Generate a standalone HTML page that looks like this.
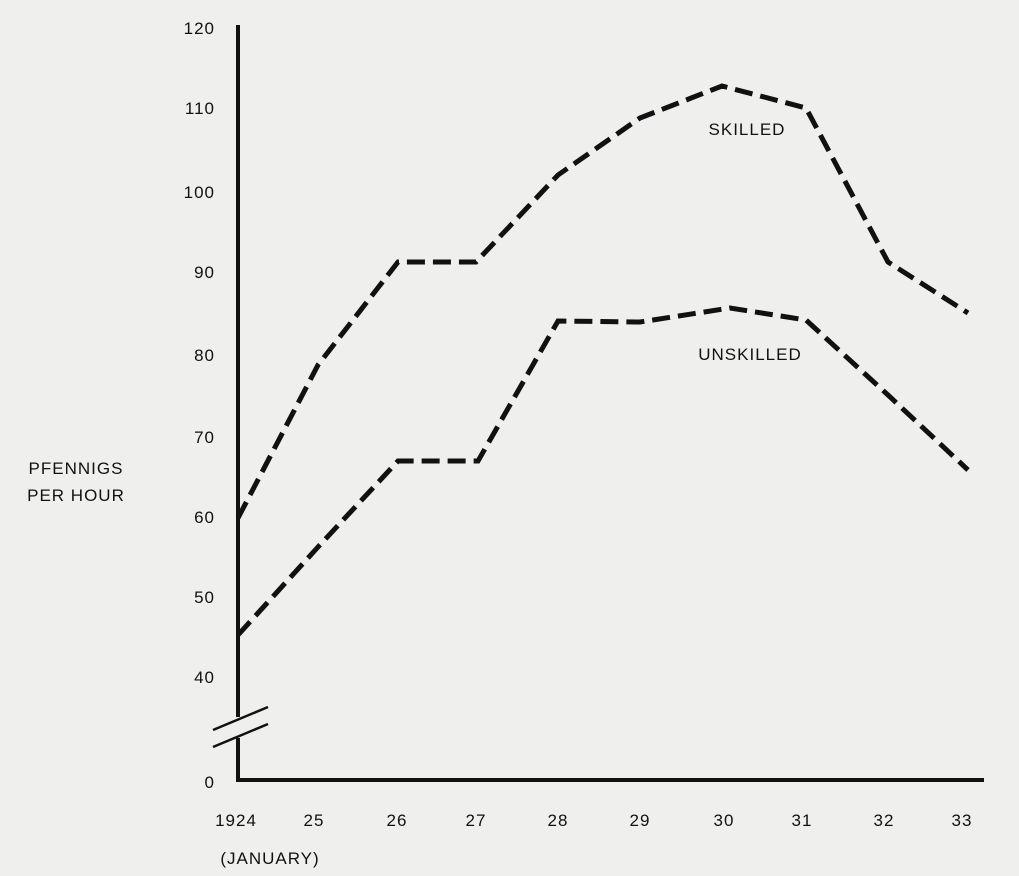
<!DOCTYPE html>
<html><head><meta charset="utf-8"><style>
html,body{margin:0;padding:0;background:#efefed;}
svg{display:block;}
text{font-family:"Liberation Sans",Arial,sans-serif;fill:#111;font-size:17px;letter-spacing:1px;}
</style></head><body>
<svg width="1019" height="876" viewBox="0 0 1019 876">
<rect width="1019" height="876" fill="#efefed"/>
<g stroke="#111" stroke-width="4" fill="none">
<line x1="238" y1="25" x2="238" y2="717"/>
<line x1="238" y1="738" x2="238" y2="782"/>
<line x1="236" y1="780" x2="984" y2="780"/>
</g>
<g stroke="#111" stroke-width="2.5">
<line x1="213" y1="730" x2="268" y2="707"/>
<line x1="213" y1="747" x2="268" y2="724"/>
</g>
<g stroke="#111" stroke-width="5" fill="none" stroke-dasharray="18,8">
<polyline points="238,518 318,365 398,262 476,262 558,175 640,118 722,86 806,108 888,262 968,313"/>
<polyline points="238,635 318,547 398,461 478,461 558,321 640,322 730,308 806,320 888,395 968,470"/>
</g>
<g text-anchor="end">
<text x="215" y="34">120</text>
<text x="215" y="114">110</text>
<text x="215" y="198">100</text>
<text x="215" y="278">90</text>
<text x="215" y="361">80</text>
<text x="215" y="443">70</text>
<text x="215" y="523">60</text>
<text x="215" y="603">50</text>
<text x="215" y="683">40</text>
<text x="215" y="788">0</text>
</g>
<g text-anchor="middle">
<text x="236" y="826">1924</text>
<text x="314" y="826">25</text>
<text x="397" y="826">26</text>
<text x="476" y="826">27</text>
<text x="558" y="826">28</text>
<text x="640" y="826">29</text>
<text x="724" y="826">30</text>
<text x="802" y="826">31</text>
<text x="884" y="826">32</text>
<text x="962" y="826">33</text>
<text x="270" y="864">(JANUARY)</text>
<text x="76" y="474">PFENNIGS</text>
<text x="76" y="501">PER HOUR</text>
<text x="747" y="135">SKILLED</text>
<text x="750" y="360">UNSKILLED</text>
</g>
</svg>
</body></html>
